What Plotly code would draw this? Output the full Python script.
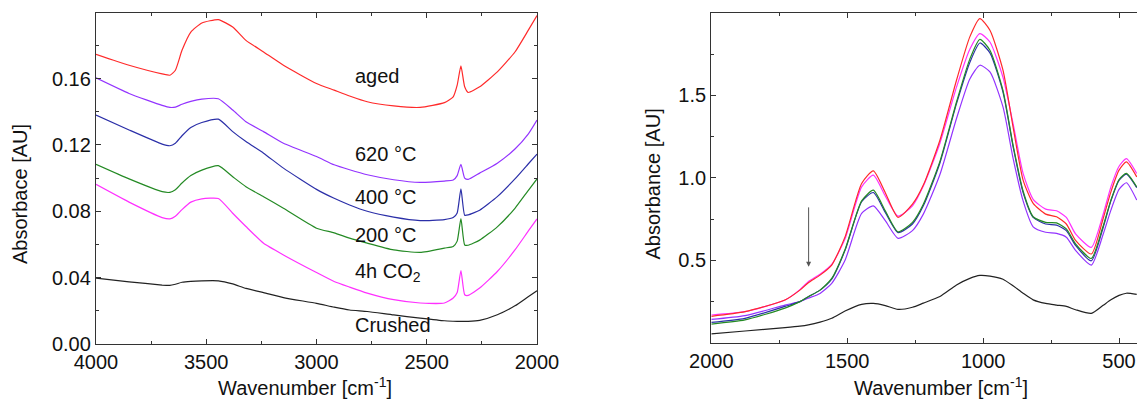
import plotly.graph_objects as go

# ---------------- Left panel (4000-2000 cm-1) ----------------
wn_left = [4000, 3850, 3700, 3665, 3640, 3610, 3570, 3520, 3445, 3380, 3320, 3240, 3150,
           3000, 2920, 2850, 2770, 2650, 2530, 2420, 2380, 2362, 2345, 2328, 2312, 2260,
           2180, 2100, 2040, 2000]

aged_l = [0.1746, 0.168, 0.1628, 0.1620, 0.165, 0.177, 0.188, 0.1935, 0.1955, 0.191, 0.183,
          0.176, 0.168, 0.157, 0.153, 0.1495, 0.146, 0.1435, 0.1426, 0.1455, 0.149, 0.156,
          0.1676, 0.155, 0.1516, 0.155, 0.164, 0.176, 0.189, 0.198]
c620_l = [0.1604, 0.151, 0.1438, 0.1426, 0.1428, 0.1445, 0.1462, 0.1476, 0.1478, 0.141, 0.134,
          0.128, 0.121, 0.113, 0.108, 0.105, 0.102, 0.099, 0.0974, 0.0982, 0.0988, 0.1015,
          0.1083, 0.100, 0.0992, 0.103, 0.109, 0.1175, 0.1265, 0.135]
c400_l = [0.138, 0.129, 0.1205, 0.1195, 0.121, 0.1255, 0.1305, 0.1335, 0.1355, 0.128, 0.122,
          0.115, 0.106, 0.0932, 0.0878, 0.0838, 0.080, 0.0765, 0.0744, 0.0750, 0.0762, 0.079,
          0.0935, 0.0776, 0.0778, 0.0806, 0.0888, 0.0995, 0.1085, 0.1145]
c200_l = [0.1083, 0.0995, 0.0918, 0.0914, 0.093, 0.097, 0.1015, 0.1048, 0.1075, 0.1008, 0.0948,
          0.0888, 0.0818, 0.0698, 0.067, 0.0638, 0.0608, 0.0567, 0.0552, 0.0578, 0.0588, 0.062,
          0.0756, 0.0597, 0.0595, 0.0626, 0.0706, 0.0818, 0.0925, 0.0995]
co2_l = [0.0962, 0.0855, 0.0762, 0.0754, 0.077, 0.081, 0.0855, 0.0875, 0.0877, 0.0788, 0.0708,
         0.0607, 0.0537, 0.0431, 0.0377, 0.0343, 0.0307, 0.0267, 0.0247, 0.0247, 0.0277, 0.031,
         0.0443, 0.0297, 0.0293, 0.0337, 0.0437, 0.0567, 0.068, 0.0754]
crushed_l = [0.0397, 0.0375, 0.0355, 0.0353, 0.0360, 0.0372, 0.0378, 0.0381, 0.0381, 0.0362, 0.0335,
             0.031, 0.028, 0.0245, 0.0222, 0.0205, 0.0196, 0.0175, 0.0156, 0.0140, 0.0137, 0.0136,
             0.0136, 0.0136, 0.0136, 0.0142, 0.0176, 0.023, 0.0285, 0.0321]

# ---------------- Right panel (2000-~430 cm-1) ----------------
wn_right = [2000, 1876, 1729, 1674, 1643, 1600, 1557, 1508, 1447, 1404, 1360, 1313, 1260, 1220,
            1159, 1098, 1049, 1012, 975, 927, 890, 853, 816, 770, 730, 694, 660, 602, 560, 530,
            500, 473, 435]

aged_r = [0.160, 0.188, 0.259, 0.319, 0.364, 0.41, 0.471, 0.642, 0.966, 1.042, 0.91, 0.76, 0.84,
          0.956, 1.228, 1.592, 1.855, 1.966, 1.895, 1.653, 1.309, 0.986, 0.845, 0.78, 0.764, 0.72,
          0.62, 0.538, 0.744, 0.915, 1.047, 1.097, 1.006]
co2_r = [0.168, 0.188, 0.259, 0.322, 0.37, 0.415, 0.475, 0.63, 0.945, 1.016, 0.89, 0.768, 0.83,
         0.95, 1.21, 1.55, 1.78, 1.875, 1.824, 1.61, 1.33, 1.027, 0.87, 0.81, 0.80, 0.76, 0.66,
         0.578, 0.77, 0.945, 1.07, 1.117, 1.027]
c200_r = [0.113, 0.138, 0.21, 0.249, 0.279, 0.319, 0.39, 0.565, 0.86, 0.925, 0.80, 0.673, 0.73,
          0.84, 1.10, 1.46, 1.72, 1.84, 1.774, 1.53, 1.20, 0.92, 0.764, 0.73, 0.727, 0.69, 0.60,
          0.511, 0.70, 0.865, 0.99, 1.027, 0.945]
c400_r = [0.123, 0.148, 0.22, 0.249, 0.279, 0.319, 0.385, 0.56, 0.855, 0.911, 0.79, 0.668, 0.72,
          0.83, 1.09, 1.45, 1.70, 1.818, 1.758, 1.52, 1.19, 0.91, 0.76, 0.72, 0.713, 0.68, 0.59,
          0.497, 0.69, 0.86, 0.985, 1.022, 0.94]
c620_r = [0.141, 0.164, 0.228, 0.249, 0.27, 0.299, 0.36, 0.50, 0.784, 0.83, 0.74, 0.633, 0.68,
          0.78, 1.02, 1.36, 1.60, 1.683, 1.642, 1.43, 1.12, 0.86, 0.703, 0.67, 0.663, 0.64, 0.56,
          0.471, 0.65, 0.804, 0.93, 0.97, 0.865]
crushed_r = [0.053, 0.071, 0.091, 0.10, 0.108, 0.125, 0.148, 0.192, 0.232, 0.238, 0.225, 0.202,
             0.215, 0.24, 0.28, 0.35, 0.39, 0.408, 0.404, 0.385, 0.345, 0.30, 0.26, 0.238, 0.228,
             0.220, 0.200, 0.178, 0.225, 0.26, 0.287, 0.30, 0.293]

labels = ["aged", "620 °C", "400 °C", "200 °C", "4h CO<sub>2</sub>", "Crushed"]
label_y = [0.1618, 0.1143, 0.0884, 0.0656, 0.0433, 0.0114]
label_x = 2835

left_ticks = [4000, 3500, 3000, 2500, 2000]
right_ticks = [2000, 1500, 1000, 500]

colors = {"aged": "#ff2a2a", "620": "#9333ff", "400": "#2b2fa8", "200": "#248a24",
          "co2": "#ff30ff", "crushed": "#222222"}

FONT = "Liberation Sans, Arial, sans-serif"

fig = go.Figure()

left_series = [(aged_l, "aged"), (c620_l, "620"), (c400_l, "400"), (c200_l, "200"),
               (co2_l, "co2"), (crushed_l, "crushed")]
for ys, key in left_series:
    fig.add_trace(go.Scatter(x=wn_left, y=ys, mode="lines", xaxis="x", yaxis="y",
                             line=dict(color=colors[key], width=1.2, shape="spline", smoothing=0.5),
                             showlegend=False, hoverinfo="skip"))

right_series = [(crushed_r, "crushed"), (c620_r, "620"), (c400_r, "400"), (c200_r, "200"),
                (co2_r, "co2"), (aged_r, "aged")]
for ys, key in right_series:
    fig.add_trace(go.Scatter(x=wn_right, y=ys, mode="lines", xaxis="x2", yaxis="y2",
                             line=dict(color=colors[key], width=1.2, shape="spline", smoothing=0.6),
                             showlegend=False, hoverinfo="skip"))

axis_common = dict(showline=True, linecolor="#333333", linewidth=1.3, ticks="inside",
                   ticklen=5, tickwidth=1.2, tickcolor="#333333", showgrid=False,
                   zeroline=False, automargin=False,
                   tickfont=dict(family=FONT, size=20, color="#111111"))

fig.update_layout(
    template="none",
    width=1137, height=405,
    margin=dict(l=0, r=0, t=0, b=0, pad=0),
    paper_bgcolor="white", plot_bgcolor="white",
    xaxis=dict(domain=[96 / 1137, 537 / 1137], range=[4000, 2000], tickvals=left_ticks,
               mirror="ticks", anchor="y",
               minor=dict(ticks="inside", ticklen=3, dtick=250, tick0=0, tickcolor="#333333"),
               **axis_common),
    yaxis=dict(domain=[1 - 344 / 405, 1 - 13 / 405], range=[0, 0.1995], dtick=0.04, tick0=0,
               tickformat=".2f", mirror="ticks", anchor="x",
               minor=dict(ticks="inside", ticklen=3, dtick=0.02, tick0=0, tickcolor="#333333"),
               **axis_common),
    xaxis2=dict(domain=[711.3 / 1137, 1.0], range=[2000, 434], tickvals=right_ticks,
                mirror="ticks", anchor="y2",
                minor=dict(ticks="inside", ticklen=3, dtick=250, tick0=0, tickcolor="#333333"),
                **axis_common),
    yaxis2=dict(domain=[1 - 342.7 / 405, 1 - 13.3 / 405], range=[0, 1.998],
                tickvals=[0.5, 1.0, 1.5], ticktext=["0.5", "1.0", "1.5"], mirror=False,
                anchor="x2",
                minor=dict(ticks="inside", ticklen=3, tickvals=[0.25, 0.75, 1.25, 1.75],
                           tickcolor="#333333"),
                **axis_common),
)

annotations = []
for txt, yv in zip(labels, label_y):
    annotations.append(dict(x=label_x, y=yv, xref="x", yref="y", text=txt, showarrow=False,
                            xanchor="left", yanchor="middle",
                            font=dict(family=FONT, size=20, color="#111111")))

title_font = dict(family=FONT, size=20, color="#111111")
annotations += [
    dict(x=305 / 1137, y=1 - 386 / 405, xref="paper", yref="paper",
         text="Wavenumber [cm<sup>-1</sup>]", showarrow=False, font=title_font,
         xanchor="center", yanchor="middle"),
    dict(x=941 / 1137, y=1 - 386 / 405, xref="paper", yref="paper",
         text="Wavenumber [cm<sup>-1</sup>]", showarrow=False, font=title_font,
         xanchor="center", yanchor="middle"),
    dict(x=20 / 1137, y=1 - 194 / 405, xref="paper", yref="paper",
         text="Absorbace [AU]", showarrow=False, font=title_font, textangle=-90,
         xanchor="center", yanchor="middle"),
    dict(x=653 / 1137, y=1 - 184.5 / 405, xref="paper", yref="paper",
         text="Absorbance [AU]", showarrow=False, font=title_font, textangle=-90,
         xanchor="center", yanchor="middle"),
    dict(x=1642, y=0.46, xref="x2", yref="y2", ax=1642, ay=0.83, axref="x2", ayref="y2",
         text="", showarrow=True, arrowhead=2, arrowsize=1, arrowwidth=1,
         arrowcolor="#555555"),
]
fig.update_layout(annotations=annotations)

fig.write_html("out.html")
